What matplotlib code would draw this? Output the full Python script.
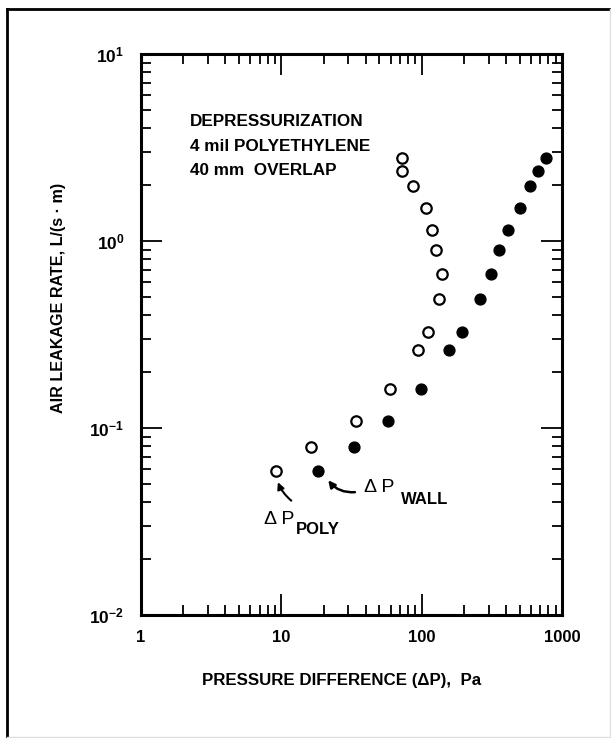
import matplotlib
matplotlib.use("Agg")
import matplotlib.pyplot as plt
from matplotlib.ticker import LogLocator, NullFormatter, FixedLocator, FixedFormatter
from matplotlib.lines import Line2D

# --- data ---
# air leakage rate, same for both pressure differences
leakage = [0.059, 0.079, 0.109, 0.161, 0.261, 0.326, 0.488, 0.663, 0.895, 1.14, 1.51, 1.96, 2.36, 2.78]
dp_poly = [9.2, 16.2, 34.3, 59.4, 94.1, 111.6, 132.2, 139.7, 126.6, 119.2, 106.8, 86.7, 71.9, 71.9]
dp_wall = [18.3, 33.2, 57.5, 99.5, 156, 193, 260, 311, 355, 414, 504, 588, 670, 769]

x_ticks = [1, 10, 100, 1000]
x_tick_labels = ["1", "10", "100", "1000"]
y_ticks = [0.01, 0.1, 1, 10]
y_tick_labels = [r"$10^{-2}$", r"$10^{-1}$", r"$10^{0}$", r"$10^{1}$"]

plt.rcParams['font.family'] = ['Liberation Sans', 'DejaVu Sans']
plt.rcParams['font.weight'] = 'bold'
plt.rcParams['mathtext.fontset'] = 'custom'
plt.rcParams['mathtext.rm'] = 'Liberation Sans:bold'
plt.rcParams['mathtext.default'] = 'rm'

fig = plt.figure(figsize=(6.11, 7.38), dpi=100)
ax = fig.add_axes([141 / 611, 123 / 738, 421 / 611, 561 / 738])

ax.set_xscale('log')
ax.set_yscale('log')
ax.set_xlim(1, 1000)
ax.set_ylim(0.01, 10)

ax.plot(dp_poly, leakage, linestyle='none', marker='o', markersize=7.5,
        markerfacecolor='white', markeredgecolor='black', markeredgewidth=1.6)
ax.plot(dp_wall, leakage, linestyle='none', marker='o', markersize=7.8,
        markerfacecolor='black', markeredgecolor='black')

# --- ticks ---
ax.xaxis.set_major_locator(FixedLocator(x_ticks))
ax.xaxis.set_major_formatter(FixedFormatter(x_tick_labels))
ax.yaxis.set_major_locator(FixedLocator(y_ticks))
ax.yaxis.set_major_formatter(FixedFormatter(y_tick_labels))
for axis in (ax.xaxis, ax.yaxis):
    axis.set_minor_locator(LogLocator(base=10, subs=range(2, 10)))
    axis.set_minor_formatter(NullFormatter())

ax.tick_params(which='both', direction='in', top=True, right=True, width=1.3, colors='black')
ax.tick_params(which='major', length=15)
ax.tick_params(which='minor', length=7.5)
ax.tick_params(axis='x', which='major', labelsize=12, pad=11)
ax.tick_params(axis='y', which='major', labelsize=12.5, pad=12)
for sp in ax.spines.values():
    sp.set_linewidth(2.2)

# --- labels ---
fig.text(342 / 611, 1 - 680 / 738, "PRESSURE DIFFERENCE (\u0394P),  Pa",
         ha='center', va='center', fontsize=12.2, fontweight='bold')
fig.text(58 / 611, 1 - 298 / 738, "AIR LEAKAGE RATE, L/(s \u00b7 m)",
         ha='center', va='center', rotation=90, fontsize=11.6, fontweight='bold')

ax.text(0.116, 0.893, "DEPRESSURIZATION\n4 mil POLYETHYLENE\n40 mm  OVERLAP",
        transform=ax.transAxes, ha='left', va='top', fontsize=12.3,
        fontweight='bold', linespacing=1.8)

# --- annotations ---
ax.annotate("", xy=(9.3, 0.053), xytext=(12.2, 0.040),
            arrowprops=dict(arrowstyle='-|>', color='black', lw=1.5,
                            mutation_scale=10, connectionstyle='arc3,rad=-0.15'))
ax.annotate("", xy=(21, 0.054), xytext=(35, 0.0455),
            arrowprops=dict(arrowstyle='-|>', color='black', lw=1.8,
                            mutation_scale=10, connectionstyle='arc3,rad=-0.3'))
ax.text(9.6, 0.0325, "\u0394 P", ha='center', va='center', fontsize=14, fontweight='normal')
ax.text(12.7, 0.0285, "POLY", ha='left', va='center', fontsize=12, fontweight='bold')
ax.text(50, 0.0478, "\u0394 P", ha='center', va='center', fontsize=14, fontweight='normal')
ax.text(71, 0.0417, "WALL", ha='left', va='center', fontsize=12, fontweight='bold')

# --- outer frame ---
fig.add_artist(Line2D([7 / 611, 7 / 611], [1 - 9 / 738, 1 - 737 / 738],
                      transform=fig.transFigure, color='black', lw=2))
fig.add_artist(Line2D([7 / 611, 1.0], [1 - 9 / 738, 1 - 9 / 738],
                      transform=fig.transFigure, color='black', lw=2))
fig.add_artist(Line2D([609.5 / 611, 609.5 / 611], [1 - 9 / 738, 1 - 737 / 738],
                      transform=fig.transFigure, color='#dddddd', lw=1))
fig.add_artist(Line2D([7 / 611, 1.0], [1 - 736.5 / 738, 1 - 736.5 / 738],
                      transform=fig.transFigure, color='#dddddd', lw=1))

fig.savefig("out.png", dpi=100)
